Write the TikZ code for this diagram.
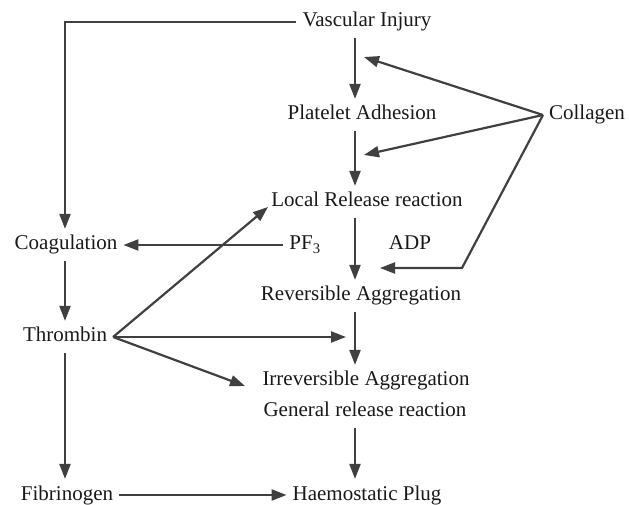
\documentclass[tikz,border=0pt]{standalone}
\usepackage{fontspec}
\setmainfont{Liberation Serif}
\usetikzlibrary{arrows.meta}
\begin{document}
\begin{tikzpicture}[x=1pt,y=-1pt,line width=2.2pt]
\tikzstyle{every node}=[inner sep=5pt,text height=15pt,text depth=5pt,font=\fontsize{21}{24}\selectfont,text=black!90]
\tikzstyle{flow}=[draw=black!75,-{Triangle[length=15pt,width=11pt]}]
\useasboundingbox (0,0) rectangle (630,505);
% platelet column
\node (inj) at (367,22) {Vascular Injury};
\node (adh) at (362,115) {Platelet Adhesion};
\node (col) at (587,115) {Collagen};
\node (loc) at (367,202) {Local Release reaction};
\node (pf) at (305,245) {PF\textsubscript{3}};
\node (adp) at (410,245) {ADP};
\node (rev) at (361,296) {Reversible Aggregation};
\node (irr) at (366,381) {Irreversible Aggregation};
\node (gen) at (365,412) {General release reaction};
\node (plug) at (367,495) {Haemostatic Plug};
% coagulation column
\node (coag) at (66,245) {Coagulation};
\node (thr) at (65,337) {Thrombin};
\node (fib) at (67,495) {Fibrinogen};
\coordinate (mid) at (355,0);
\coordinate (left) at (65,0);
\coordinate (c1) at (364,57);
\coordinate (c2) at (364,155);
\coordinate (bend) at (462,268);
\coordinate (c3) at (380,268);
\coordinate (t1) at (268,207);
\coordinate (t2) at (346,337);
\coordinate (t3) at (245,386);
% main chain
\draw[flow] (inj.south -| mid) -- (adh.north -| mid);
\draw[flow] (adh.south -| mid) -- (loc.north -| mid);
\draw[flow] (loc.south -| mid) -- (rev.north -| mid);
\draw[flow] (rev.south -| mid) -- (irr.north -| mid);
\draw[flow] (gen.south -| mid) -- (plug.north -| mid);
% collagen
\draw[flow] (col.west) -- (c1);
\draw[flow] (col.west) -- (c2);
\draw[flow] (col.west) -- (bend) -- (c3);
% coagulation side
\draw[flow] (inj.west) -| (coag.north -| left);
\draw[flow] (pf.west) -- (coag.east);
\draw[flow] (coag.south -| left) -- (thr.north -| left);
\draw[flow] (thr.south -| left) -- (fib.north -| left);
\draw[flow] (fib.east) -- (plug.west);
\foreach \t in {t1,t2,t3}
 \draw[flow] (thr.east) -- (\t);
\end{tikzpicture}
\end{document}
